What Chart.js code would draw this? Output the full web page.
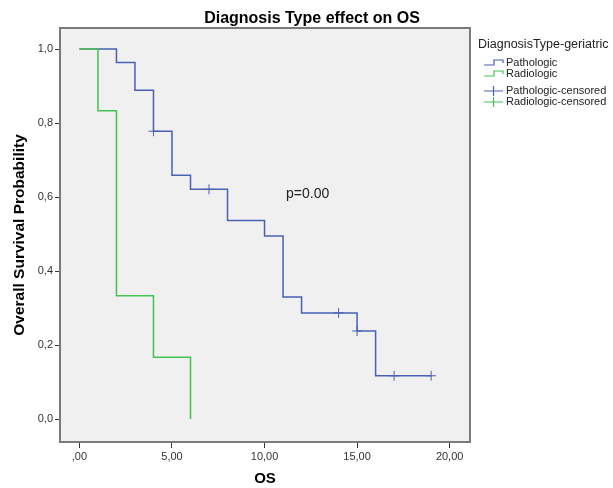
<!DOCTYPE html>
<html>
<head>
<meta charset="utf-8">
<script src="https://cdn.jsdelivr.net/npm/chart.js@4"></script>
<style>
  html, body { margin: 0; padding: 0; background: #fff; }
  #wrap { width: 613px; height: 488px; }
</style>
</head>
<body>
<div id="wrap"><canvas id="km" width="613" height="488"></canvas></div>
<script>
// Kaplan-Meier data
const pathTimes = [0, 2, 3, 4, 5, 6, 8, 10, 11, 12, 15, 16, 19];
const pathSurv = [1, 0.964, 0.889, 0.778, 0.659, 0.621, 0.537, 0.495, 0.330, 0.287, 0.238, 0.117, 0.117];
const radTimes = [0, 1, 2, 4, 6];
const radSurv = [1, 0.833, 0.333, 0.167, 0];
const pathCensTimes = [4, 7, 14, 15, 17, 19];
const pathCensSurv = [0.778, 0.621, 0.287, 0.238, 0.117, 0.117];
const radCensTimes = [];
const radCensSurv = [];

const xTicks = [0, 5, 10, 15, 20];
const yTicks = [0, 0.2, 0.4, 0.6, 0.8, 1.0];

const legendTitle = 'DiagnosisType-geriatric';
const legendItems = ['Pathologic', 'Radiologic', 'Pathologic-censored', 'Radiologic-censored'];

const blue = '#4a60b4';
const green = '#45c150';
const fontFam = '"Liberation Sans", Arial, sans-serif';

function pts(xs, ys) {
    return xs.map(function (x, i) { return { x: x, y: ys[i] }; });
}

function fmtX(v) {
    const s = v.toFixed(2).replace('.', ',');
    return s.startsWith('0,') ? s.slice(1) : s;
}

const frame = {
    id: 'frame',
    beforeDraw: function (chart) {
        const a = chart.chartArea;
        const c = chart.ctx;
        c.save();
        c.fillStyle = '#f0f0f0';
        c.fillRect(a.left, a.top, a.right - a.left, a.bottom - a.top);
        c.restore();
    },
    afterDraw: function (chart) {
        const a = chart.chartArea;
        const c = chart.ctx;
        c.save();
        c.strokeStyle = '#7a7a7a';
        c.lineWidth = 2;
        c.strokeRect(a.left, a.top, a.right - a.left, a.bottom - a.top);

        // title
        c.fillStyle = '#000';
        c.font = 'bold 16px ' + fontFam;
        c.textAlign = 'center';
        c.textBaseline = 'middle';
        c.fillText('Diagnosis Type effect on OS', 312, 19);

        // p value annotation
        c.font = '14px ' + fontFam;
        c.textAlign = 'left';
        c.fillStyle = '#222';
        c.fillText('p=0.00', 286, 194);

        // legend
        c.font = '12.5px ' + fontFam;
        c.fillStyle = '#222';
        c.fillText(legendTitle, 478, 45);
        const rows = [63, 74, 91, 102];
        const cols = [blue, green, blue, green];
        c.font = '11px ' + fontFam;
        legendItems.forEach(function (label, i) {
            const cy = rows[i];
            c.strokeStyle = cols[i];
            c.lineWidth = 1.2;
            c.beginPath();
            if (i < 2) {
                c.moveTo(484, cy + 2);
                c.lineTo(494, cy + 2);
                c.lineTo(494, cy - 3);
                c.lineTo(503, cy - 3);
                c.lineTo(503, cy);
            } else {
                c.moveTo(484, cy);
                c.lineTo(503, cy);
                c.moveTo(493.5, cy - 5);
                c.lineTo(493.5, cy + 5);
            }
            c.stroke();
            c.fillStyle = '#222';
            c.fillText(label, 506, cy);
        });
        c.restore();
    }
};

const ctx = document.getElementById('km').getContext('2d');
const kmChart = new Chart(ctx, {
    type: 'line',
    data: {
        datasets: [{
            label: 'Radiologic',
            data: pts(radTimes, radSurv),
            borderColor: green,
            borderWidth: 1.5,
            stepped: true,
            pointRadius: 0,
            fill: false
        }, {
            label: 'Pathologic',
            data: pts(pathTimes, pathSurv),
            borderColor: blue,
            borderWidth: 1.5,
            stepped: true,
            pointRadius: 0,
            fill: false
        }, {
            label: 'Pathologic-censored',
            data: pts(pathCensTimes, pathCensSurv),
            showLine: false,
            pointStyle: 'cross',
            pointRadius: 5,
            borderColor: blue,
            borderWidth: 1
        }, {
            label: 'Radiologic-censored',
            data: pts(radCensTimes, radCensSurv),
            showLine: false,
            pointStyle: 'cross',
            pointRadius: 5,
            borderColor: green,
            borderWidth: 1
        }]
    },
    options: {
        responsive: false,
        animation: false,
        layout: {
            padding: { left: 0, right: 143, top: 28, bottom: 0 }
        },
        plugins: {
            legend: { display: false },
            title: { display: false },
            tooltip: { enabled: false }
        },
        scales: {
            x: {
                type: 'linear',
                min: -1.05,
                max: 21.1,
                afterBuildTicks: function (scale) {
                    scale.ticks = xTicks.map(function (v) { return { value: v }; });
                },
                afterFit: function (scale) { scale.height = 46; },
                grid: {
                    drawOnChartArea: false,
                    drawTicks: true,
                    tickLength: 6,
                    color: '#333'
                },
                border: { display: false },
                ticks: {
                    padding: 2,
                    color: '#333',
                    font: { family: fontFam, size: 11 },
                    callback: function (v) { return fmtX(v); }
                },
                title: {
                    display: true,
                    text: 'OS',
                    color: '#000',
                    font: { family: fontFam, size: 15, weight: 'bold' },
                    padding: { top: 0, bottom: 0 }
                }
            },
            y: {
                min: -0.062,
                max: 1.057,
                afterBuildTicks: function (scale) {
                    scale.ticks = yTicks.map(function (v) { return { value: v }; });
                },
                afterFit: function (scale) { scale.width = 60; },
                grid: {
                    drawOnChartArea: false,
                    drawTicks: true,
                    tickLength: 5,
                    color: '#333'
                },
                border: { display: false },
                ticks: {
                    padding: 2,
                    color: '#333',
                    font: { family: fontFam, size: 11 },
                    callback: function (v) { return v.toFixed(1).replace('.', ','); }
                },
                title: {
                    display: true,
                    text: 'Overall Survival Probability',
                    color: '#000',
                    font: { family: fontFam, size: 15.5, weight: 'bold' },
                    padding: { top: 10, bottom: 0 }
                }
            }
        }
    },
    plugins: [frame]
});
</script>
</body>
</html>
